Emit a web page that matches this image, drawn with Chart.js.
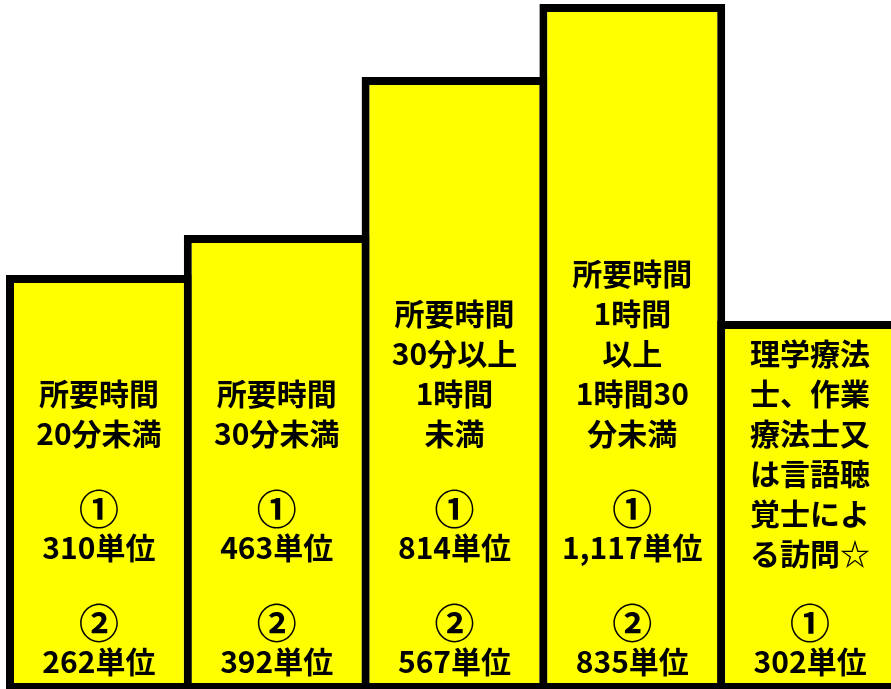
<!DOCTYPE html>
<html lang="ja">
<head>
<meta charset="utf-8">
<title>訪問リハビリテーション 単位</title>
<script src="https://cdn.jsdelivr.net/npm/chart.js@4.4.1/dist/chart.umd.min.js"></script>
<style>
  html, body { margin: 0; padding: 0; background: #fff; overflow: hidden; }
  #wrap { position: absolute; left: 0; top: 0; width: 905px; height: 691px; }
</style>
</head>
<body>
<div id="wrap"><canvas id="unitChart"></canvas></div>
<script>
// ----- DATA -----
const categories = ['20分未満', '30分未満', '30分以上1時間未満', '1時間以上1時間30分未満', '理学療法士等'];
// bar heights as drawn (decorative, not proportional to units)
const barHeights = [416, 456, 614, 687, 370];
const upperLabels = [
  ['所要時間', '20分未満'],
  ['所要時間', '30分未満'],
  ['所要時間', '30分以上', '1時間', '未満'],
  ['所要時間', '1時間', '以上', '1時間30', '分未満'],
  ['理学療法', '士、作業', '療法士又', 'は言語聴', '覚士によ', 'る訪問☆']
];
const unitLabels = [
  ['①', '310単位', '', '②', '262単位'],
  ['①', '463単位', '', '②', '392単位'],
  ['①', '814単位', '', '②', '567単位'],
  ['①', '1,117単位', '', '②', '835単位'],
  ['①', '302単位']
];

// ----- LABELS PLUGIN -----
const barText = {
  id: 'barText',
  afterDatasetsDraw(chart) {
    const ctx = chart.ctx;
    const meta = chart.getDatasetMeta(0);
    ctx.save();
    ctx.fillStyle = '#000';
    ctx.textAlign = 'center';
    ctx.textBaseline = 'middle';
    meta.data.forEach((bar, i) => {
      // stack lines from the bottom of the bar upward
      const lines = upperLabels[i].concat([''], unitLabels[i]);
      let y = bar.base - 29;
      for (let k = lines.length - 1; k >= 0; k--) {
        const t = lines[k];
        if (t === '') { y -= (i === 4 && k === upperLabels[i].length) ? 28 : 34; continue; }
        const circled = t === '①' || t === '②';
        ctx.font = circled ? 'bold 40px "Noto Sans CJK JP", sans-serif'
                           : 'bold 30px "Noto Sans CJK JP", sans-serif';
        ctx.fillText(t, bar.x, circled ? y + 1 : y);
        y -= 40;
      }
    });
    ctx.restore();
  }
};

// ----- CHART -----
new Chart(document.getElementById('unitChart'), {
  type: 'bar',
  data: {
    labels: categories,
    datasets: [{
      data: barHeights,
      backgroundColor: '#ffff00',
      borderColor: '#000000',
      borderWidth: 8,
      borderSkipped: false,
      barPercentage: 1.045,
      categoryPercentage: 1,
      clip: false
    }]
  },
  options: {
    responsive: true,
    maintainAspectRatio: false,
    animation: false,
    layout: { padding: { left: 10, right: 6, top: 0, bottom: 0 } },
    plugins: { legend: { display: false }, tooltip: { enabled: false } },
    scales: {
      x: { display: false },
      y: { display: false, min: 0, max: 691 }
    }
  },
  plugins: [barText]
});
</script>
</body>
</html>
